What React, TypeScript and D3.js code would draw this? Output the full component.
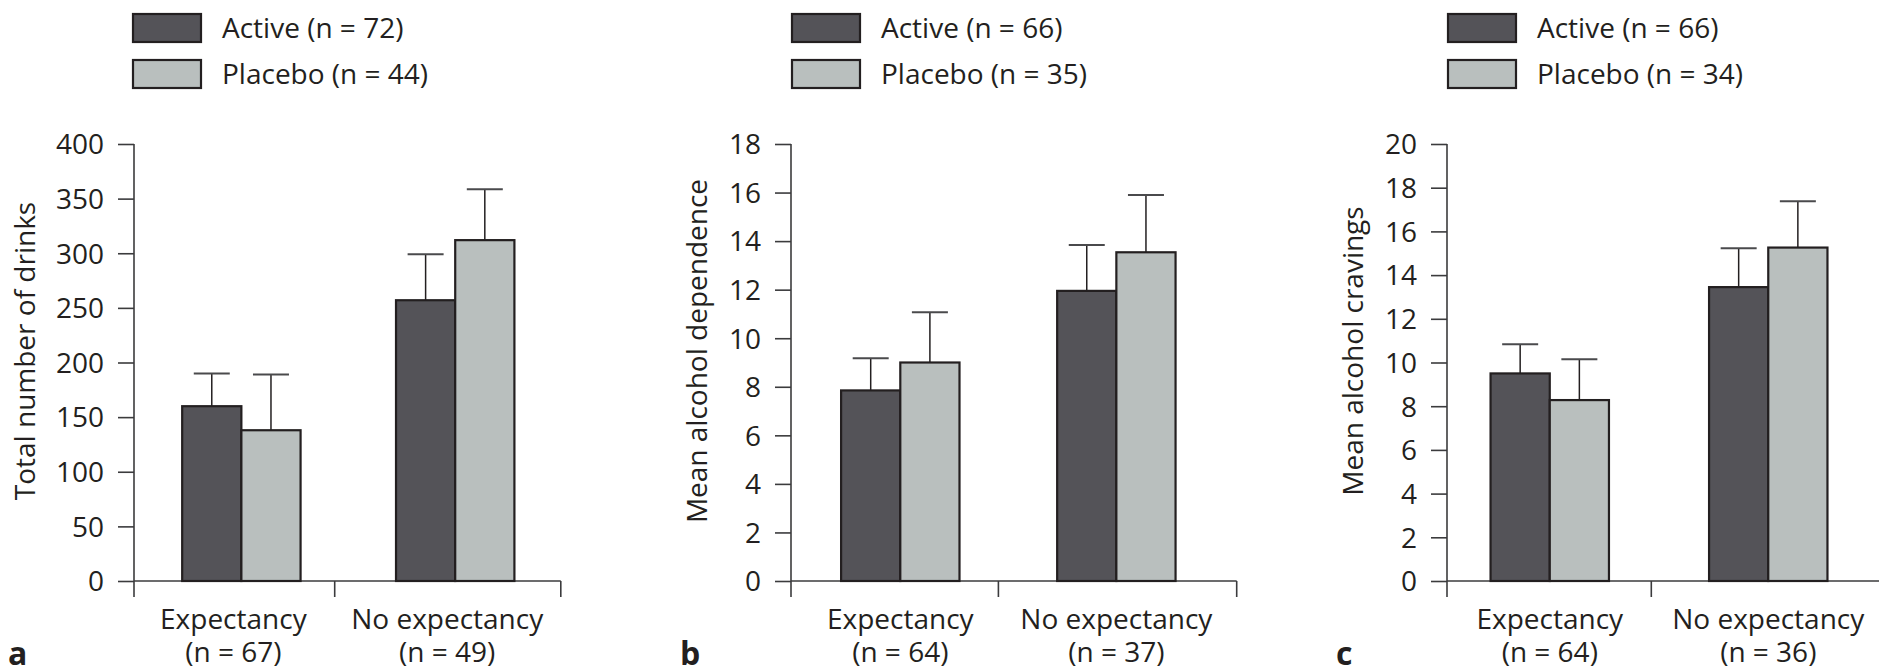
import { useEffect, useRef } from 'react';
import * as d3 from 'd3';

const groups = ['Expectancy', 'No expectancy'];
const panelTags = ['a', 'b', 'c'];
const yTitles = ['Total number of drinks', 'Mean alcohol dependence', 'Mean alcohol cravings'];
const activeN = [72, 66, 66];
const placeboN = [44, 35, 34];
const expectancyN = [67, 64, 64];
const noExpectancyN = [49, 37, 36];
const yMax = [400, 18, 20];
const yStep = [50, 2, 2];

// means and top of the error bar (mean + SE), [expectancy, no expectancy]
const activeMean = [[160, 257], [7.85, 11.95], [9.5, 13.45]];
const activeUpper = [[190, 299], [9.17, 13.84], [10.83, 15.23]];
const placeboMean = [[138, 312], [9.0, 13.54], [8.28, 15.26]];
const placeboUpper = [[189, 358.5], [11.07, 15.9], [10.15, 17.38]];

const DARK = '#545358';
const LIGHT = '#b9bfbe';
const INK = '#231f20';
const FONT = "'Open Sans', sans-serif";
const FS = 28;

// where each panel sits on the page
const layout = [
  { axisX: 134, mid: 334.7, end: 560.8, groupFrac: [0.535, 0.533], labelShift: -8, legendX: 133, titleX: 35 },
  { axisX: 791, mid: 998.4, end: 1236.7, groupFrac: [0.527, 0.495], labelShift: 0, legendX: 792, titleX: 707 },
  { axisX: 1447, mid: 1651.3, end: 1890, groupFrac: [0.503, 0.49], labelShift: 0, legendX: 1448, titleX: 1363 },
];

const W = 1879;
const H = 670;
const yTop = 144;
const yZero = 581;
const barW = 59.2;
const capW = 36;

const App = () => {
  const ref = useRef<SVGSVGElement>(null);

  useEffect(() => {
    const svg = d3.select(ref.current);
    svg.selectAll('*').remove();

    layout.forEach((L, p) => {
      const g = svg.append('g');

      const y = d3.scaleLinear().domain([0, yMax[p]]).range([yZero, yTop]);
      const x = d3.scaleLinear().domain([0, 1, 2]).range([L.axisX, L.mid, L.end]);

      // legend
      const legend = [
        { label: `Active (n = ${activeN[p]})`, fill: DARK },
        { label: `Placebo (n = ${placeboN[p]})`, fill: LIGHT },
      ];
      legend.forEach((d, i) => {
        g.append('rect')
          .attr('x', L.legendX)
          .attr('y', 14 + i * 46)
          .attr('width', 68)
          .attr('height', 28)
          .attr('fill', d.fill)
          .attr('stroke', INK)
          .attr('stroke-width', 2.2);
        g.append('text')
          .attr('x', L.legendX + 89)
          .attr('y', 38 + i * 46)
          .attr('font-family', FONT)
          .attr('font-size', FS)
          .attr('fill', INK)
          .text(d.label);
      });

      // y axis
      const ticks = d3.range(0, yMax[p] + yStep[p] / 2, yStep[p]);
      const yAxis = g.append('g')
        .attr('transform', `translate(${L.axisX},0)`)
        .call(d3.axisLeft(y).tickValues(ticks).tickSize(16).tickSizeOuter(0).tickPadding(14));
      yAxis.select('.domain').remove();
      yAxis.selectAll('line').attr('stroke', '#3b3b3d').attr('stroke-width', 1.6);
      yAxis.selectAll('text')
        .attr('font-family', FONT)
        .attr('font-size', FS)
        .attr('fill', INK)
        .attr('dy', '0.35em');

      // axis lines
      g.append('line')
        .attr('x1', L.axisX).attr('x2', L.axisX)
        .attr('y1', yTop).attr('y2', yZero + 16)
        .attr('stroke', '#3b3b3d').attr('stroke-width', 1.6);
      g.append('line')
        .attr('x1', L.axisX).attr('x2', L.end)
        .attr('y1', yZero).attr('y2', yZero)
        .attr('stroke', '#3b3b3d').attr('stroke-width', 1.6);
      [L.mid, L.end].forEach(tx => {
        g.append('line')
          .attr('x1', tx).attr('x2', tx)
          .attr('y1', yZero).attr('y2', yZero + 16)
          .attr('stroke', '#3b3b3d').attr('stroke-width', 1.6);
      });

      // bars + error bars
      const series = [
        { mean: activeMean[p], upper: activeUpper[p], fill: DARK, k: 0 },
        { mean: placeboMean[p], upper: placeboUpper[p], fill: LIGHT, k: 1 },
      ];
      groups.forEach((grp, i) => {
        const center = x(i + L.groupFrac[i]);
        const left = center - barW;
        series.forEach(s => {
          const bx = left + s.k * barW;
          const cx = bx + barW / 2;
          g.append('line')
            .attr('x1', cx).attr('x2', cx)
            .attr('y1', y(s.mean[i])).attr('y2', y(s.upper[i]))
            .attr('stroke', INK).attr('stroke-width', 1.5);
          g.append('line')
            .attr('x1', cx - capW / 2).attr('x2', cx + capW / 2)
            .attr('y1', y(s.upper[i])).attr('y2', y(s.upper[i]))
            .attr('stroke', '#4a4a4c').attr('stroke-width', 2);
          g.append('rect')
            .attr('x', bx)
            .attr('y', y(s.mean[i]))
            .attr('width', barW)
            .attr('height', y(0) - y(s.mean[i]))
            .attr('fill', s.fill)
            .attr('stroke', INK)
            .attr('stroke-width', 2.2);
        });

        const n = i === 0 ? expectancyN[p] : noExpectancyN[p];
        const lx = center + L.labelShift;
        g.append('text')
          .attr('x', lx).attr('y', 629)
          .attr('text-anchor', 'middle')
          .attr('font-family', FONT).attr('font-size', FS).attr('fill', INK)
          .text(grp);
        g.append('text')
          .attr('x', lx).attr('y', 662)
          .attr('text-anchor', 'middle')
          .attr('font-family', FONT).attr('font-size', FS).attr('fill', INK)
          .text(`(n = ${n})`);
      });

      // y title
      g.append('text')
        .attr('transform', `translate(${L.titleX},351) rotate(-90)`)
        .attr('text-anchor', 'middle')
        .attr('font-family', FONT).attr('font-size', FS).attr('fill', INK)
        .text(yTitles[p]);

      // panel letter
      g.append('text')
        .attr('x', L.titleX - 27).attr('y', 665)
        .attr('font-family', FONT).attr('font-size', 32).attr('font-weight', 700).attr('fill', INK)
        .text(panelTags[p]);
    });
  }, []);

  return (
    <div style={{ position: 'absolute', left: 0, top: 0 }}>
      <svg ref={ref} width={W} height={H} style={{ display: 'block', background: '#fff' }} />
    </div>
  );
};

export default App;
